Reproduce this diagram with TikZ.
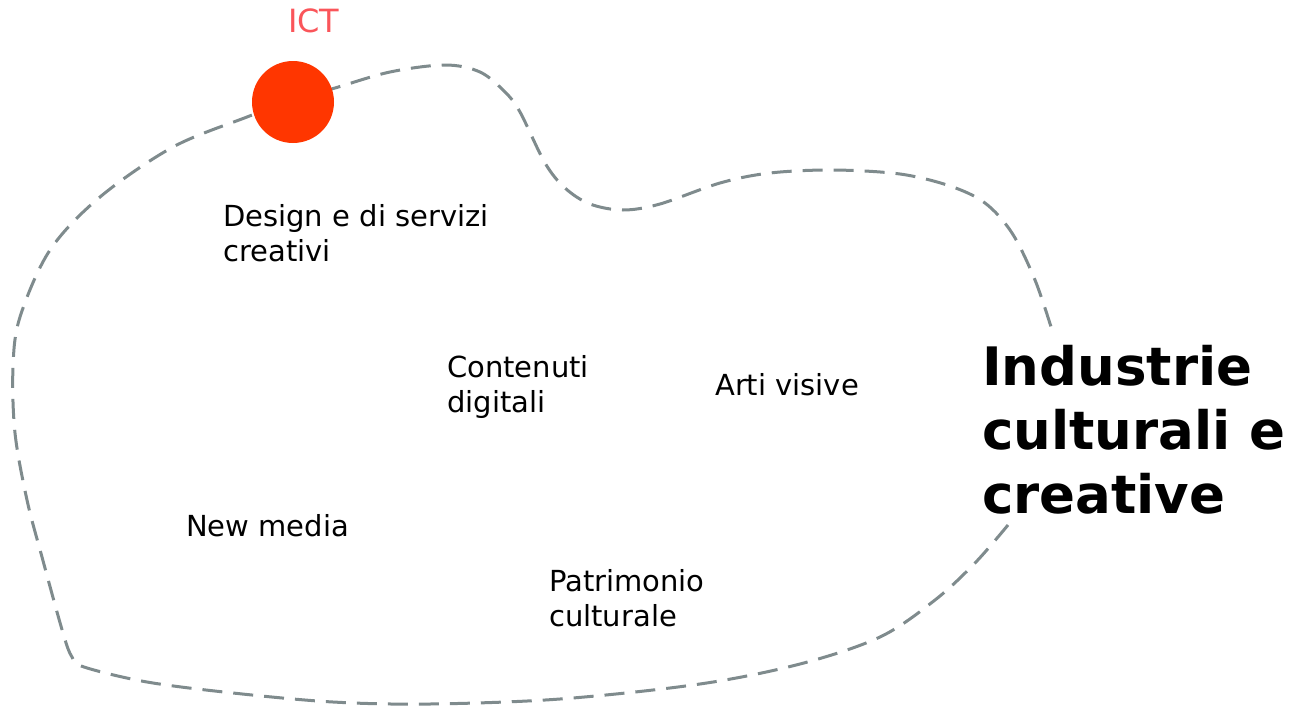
\documentclass[tikz,border=0pt]{standalone}
\usepackage{fontspec}
\setmainfont{DejaVu Sans}
\definecolor{linegray}{RGB}{127,139,141}
\definecolor{ictred}{RGB}{255,54,0}
\definecolor{ictlabel}{RGB}{250,85,90}
\begin{document}
\begin{tikzpicture}[x=1pt,y=-1pt,
  lbl/.style={anchor=base west,inner sep=0pt,align=left,font=\fontsize{29}{35}\selectfont},
  title/.style={anchor=base west,inner sep=0pt,align=left,font=\fontsize{53}{64}\selectfont\bfseries},
  border/.style={draw=linegray,line width=3pt,dash pattern=on 20pt off 11pt}]
\useasboundingbox (0,0) rectangle (1293,707);
\draw[border] plot[smooth,tension=0.55] coordinates {
 (1008,525) (975,563) (935,600) (880,637) (800,664) (700,684) (560,699) (430,704)
 (333,702) (233,693) (147,682) (84,667) (72,657) (63,633) (42,557) (27,500)
 (15,433) (13,367) (20,317) (50,250) (100,197) (173,147) (247,117) (293,100)
 (335,88) (390,72) (445,65) (480,72) (505,92) (520,112) (545,163) (565,188)
 (590,204) (623,210) (660,204) (720,183) (770,173) (833,170) (900,174)
 (950,186) (985,203) (1012,233) (1035,280) (1052,330)};
\node[circle,fill=ictred,minimum size=82pt,inner sep=0pt] (ict) at (293,102) {};
\node[lbl,text=ictlabel,font=\fontsize{32}{38}\selectfont] (ictl) at (288,32) {ICT};
\node[lbl] (design) at (223,261) {Design e di servizi\\creativi};
\node[lbl] (cont) at (447,412) {Contenuti\\digitali};
\node[lbl] (arti) at (715,395) {Arti visive};
\node[lbl] (new) at (186,536) {New media};
\node[lbl] (patr) at (549,626) {Patrimonio\\culturale};
\node[title] (icc) at (982,513) {Industrie\\culturali e\\creative};
\end{tikzpicture}
\end{document}
